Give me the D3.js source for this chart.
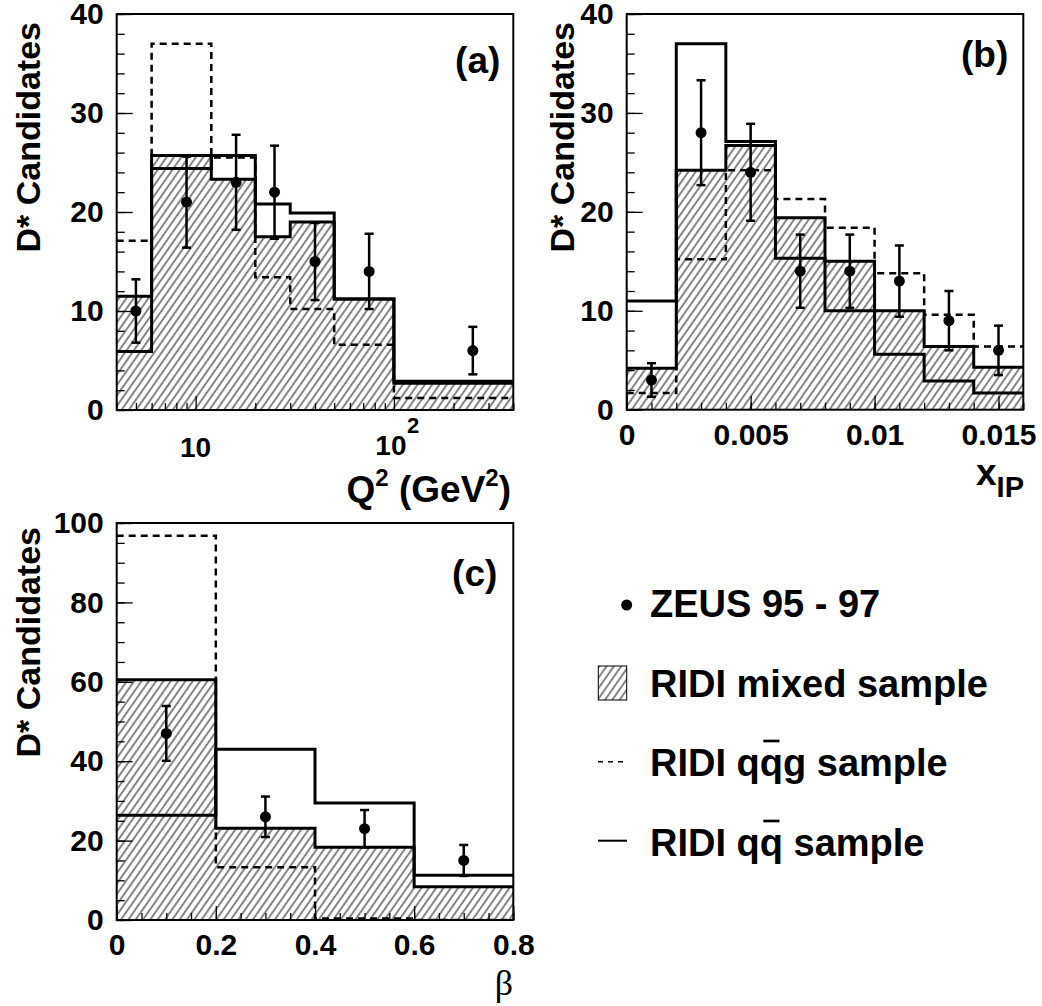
<!DOCTYPE html>
<meta charset="utf-8">
<style>
  body { margin: 0; background: #fff; }
  svg text { font-family: "Liberation Sans", Arial, sans-serif; font-weight: bold; fill: #000; }
  .tick text { font-size: 30px; font-family: "Liberation Sans", Arial, sans-serif; font-weight: bold; }
</style>
<svg width="1042" height="1006"></svg>
<script src="https://d3js.org/d3.v7.min.js"></script>
<script>
// (a) Q^2 distribution
var q2Edges = [4, 6, 12, 20, 30, 50, 100, 400];
var q2Mixed = [11.5, 25.7, 23.3, 17.5, 19.0, 11.2, 2.7];
var q2Qq = [5.9, 24.4, 25.7, 20.8, 19.9, 11.2, 2.9];
var q2Qqg = [17.1, 37.0, 25.5, 13.4, 10.2, 6.6, 1.2];
var q2PointX = [5, 9, 16, 25, 40, 75, 250];
var q2PointY = [10, 21, 23, 22, 15, 14, 6];
var q2PointErr = [3.2, 4.6, 4.8, 4.7, 3.9, 3.8, 2.4];

// (b) x_IP distribution
var xpEdges = [0, 0.002, 0.004, 0.006, 0.008, 0.010, 0.012, 0.014, 0.016];
var xpMixed = [4.2, 24.2, 26.7, 19.4, 15.0, 10.0, 6.4, 4.3];
var xpQq = [11.0, 37.0, 27.1, 15.3, 10.0, 5.6, 2.9, 1.7];
var xpQqg = [1.7, 15.2, 24.2, 21.3, 18.4, 13.8, 9.6, 6.4];
var xpPointX = [0.001, 0.003, 0.005, 0.007, 0.009, 0.011, 0.013, 0.015];
var xpPointY = [3, 28, 24, 14, 14, 13, 9, 6];
var xpPointErr = [1.7, 5.3, 4.9, 3.7, 3.7, 3.6, 3.0, 2.5];

// (c) beta distribution
var betaEdges = [0, 0.2, 0.4, 0.6, 0.8];
var betaMixed = [60.5, 23.1, 18.3, 8.4];
var betaQq = [26.4, 43.0, 29.5, 11.3];
var betaQqg = [96.8, 13.3, 0.4, 0];
var betaPointX = [0.1, 0.3, 0.5, 0.7];
var betaPointY = [47, 26, 23, 15];
var betaPointErr = [6.9, 5.1, 4.7, 3.9];

var yTicksAB = [0, 10, 20, 30, 40];
var yTicksC = [0, 20, 40, 60, 80, 100];
var xpTicks = [0, 0.005, 0.01, 0.015];
var betaTicks = [0, 0.2, 0.4, 0.6, 0.8];

var svg = d3.select("svg");
var defs = svg.append("defs");
defs.append("pattern")
    .attr("id", "hatch")
    .attr("patternUnits", "userSpaceOnUse")
    .attr("width", 6).attr("height", 10)
    .attr("patternTransform", "rotate(35)")
  .append("line")
    .attr("x1", 3).attr("y1", -1).attr("x2", 3).attr("y2", 11)
    .attr("stroke", "#222").attr("stroke-width", 1.1);

function stepData(edges, vals) {
    return edges.map(function (e, i) { return [e, vals[Math.min(i, vals.length - 1)]]; });
}

function drawPanel(p) {
    var g = svg.append("g").attr("transform", "translate(" + p.left + "," + p.top + ")");
    var x = p.x.range([0, p.w]);
    var y = d3.scaleLinear().domain([0, p.ymax]).range([p.h, 0]);

    var clipId = "clip" + p.name;
    defs.append("clipPath").attr("id", clipId)
      .append("rect").attr("width", p.w).attr("height", p.h);
    var body = g.append("g").attr("clip-path", "url(#" + clipId + ")");

    var area = d3.area().x(function (d) { return x(d[0]); })
        .y0(y(0)).y1(function (d) { return y(d[1]); })
        .curve(d3.curveStepAfter);
    var line = d3.line().x(function (d) { return x(d[0]); })
        .y(function (d) { return y(d[1]); })
        .curve(d3.curveStepAfter);

    body.append("path").attr("d", area(stepData(p.edges, p.mixed)))
        .attr("fill", "url(#hatch)");
    body.append("path").attr("d", line(stepData(p.edges, p.mixed)))
        .attr("fill", "none").attr("stroke", "#000").attr("stroke-width", 3);
    body.append("path").attr("d", line(stepData(p.edges, p.qq)))
        .attr("fill", "none").attr("stroke", "#000").attr("stroke-width", 3);
    body.append("path").attr("d", line(stepData(p.edges, p.qqg)))
        .attr("fill", "none").attr("stroke", "#000").attr("stroke-width", 2.5)
        .attr("stroke-dasharray", "7,5");

    // y axis: major + minor ticks pointing inward
    g.append("g").call(d3.axisLeft(y).tickValues(p.yTicks)
        .tickSize(-16).tickPadding(13));
    g.append("g").call(d3.axisLeft(y).tickValues(d3.range(0, p.ymax + 0.01, p.yMinor))
        .tickSize(-8).tickFormat(""));

    // x axis
    g.append("g").attr("transform", "translate(0," + p.h + ")")
        .call(d3.axisBottom(x).tickValues(p.xTicks).tickSize(-14)
            .tickPadding(14).tickFormat(p.xFormat));
    g.append("g").attr("transform", "translate(0," + p.h + ")")
        .call(d3.axisBottom(x).tickValues(p.xMinor).tickSize(-7).tickFormat(""));

    g.selectAll(".domain").remove();
    g.selectAll(".tick line").attr("stroke", "#000").attr("stroke-width", 1.3);

    g.append("rect").attr("width", p.w).attr("height", p.h)
        .attr("fill", "none").attr("stroke", "#000").attr("stroke-width", 2);

    // data points
    var pts = g.append("g");
    p.px.forEach(function (v, i) {
        var cx = x(v), cy = y(p.py[i]);
        var lo = y(p.py[i] - p.perr[i]), hi = y(p.py[i] + p.perr[i]);
        pts.append("line").attr("x1", cx).attr("x2", cx).attr("y1", lo).attr("y2", hi)
            .attr("stroke", "#000").attr("stroke-width", 2.5);
        [lo, hi].forEach(function (yy) {
            pts.append("line").attr("x1", cx - 4.5).attr("x2", cx + 4.5)
                .attr("y1", yy).attr("y2", yy)
                .attr("stroke", "#000").attr("stroke-width", 2.5);
        });
        pts.append("circle").attr("cx", cx).attr("cy", cy).attr("r", 5.5).attr("fill", "#000");
    });

    g.append("text").attr("x", p.w - p.labelDx).attr("y", p.labelY)
        .attr("text-anchor", "end").style("font-size", "37px").text(p.label);

    svg.append("text")
        .attr("transform", "translate(" + p.ytitleX + "," + p.ytitleY + ") rotate(-90)")
        .attr("text-anchor", "end").style("font-size", "34px")
        .text("D* Candidates");
    return { g: g, x: x, y: y };
}

function minorLog() {
    var t = [];
    [1, 10, 100].forEach(function (d) {
        for (var k = 1; k <= 9; k++) {
            var v = k * d;
            if (v >= 4 && v <= 400 && v !== 10 && v !== 100) t.push(v);
        }
    });
    return t;
}

var pa = drawPanel({
    name: "a", left: 116.7, top: 14, w: 396.6, h: 396,
    x: d3.scaleLog().domain([4, 400]), ymax: 40, yTicks: yTicksAB, yMinor: 2,
    xTicks: [10, 100], xMinor: minorLog(), xFormat: function () { return ""; },
    edges: q2Edges, mixed: q2Mixed, qq: q2Qq, qqg: q2Qqg,
    px: q2PointX, py: q2PointY, perr: q2PointErr,
    label: "(a)", labelDx: 13, labelY: 59, ytitleX: 40, ytitleY: 22
});

var pb = drawPanel({
    name: "b", left: 626.7, top: 14, w: 396.6, h: 395.7,
    x: d3.scaleLinear().domain([0, 0.016]), ymax: 40, yTicks: yTicksAB, yMinor: 2,
    xTicks: xpTicks, xMinor: d3.range(0, 0.0161, 0.001),
    xFormat: function (d) { return d === 0 ? "0" : String(+d.toFixed(3)); },
    edges: xpEdges, mixed: xpMixed, qq: xpQq, qqg: xpQqg,
    px: xpPointX, py: xpPointY, perr: xpPointErr,
    label: "(b)", labelDx: 15, labelY: 53, ytitleX: 574, ytitleY: 22
});

var pc = drawPanel({
    name: "c", left: 116.7, top: 523, w: 396.6, h: 397,
    x: d3.scaleLinear().domain([0, 0.8]), ymax: 100, yTicks: yTicksC, yMinor: 5,
    xTicks: betaTicks, xMinor: d3.range(0, 0.801, 0.05),
    xFormat: function (d) { return d === 0 ? "0" : String(+d.toFixed(2)); },
    edges: betaEdges, mixed: betaMixed, qq: betaQq, qqg: betaQqg,
    px: betaPointX, py: betaPointY, perr: betaPointErr,
    label: "(c)", labelDx: 16, labelY: 63, ytitleX: 40, ytitleY: 527
});

// log axis labels for (a)
pa.g.append("text").attr("x", pa.x(10)).attr("y", 396 + 47)
    .attr("text-anchor", "middle").style("font-size", "28px").text("10");
pa.g.append("text").attr("x", pa.x(100) - 3).attr("y", 396 + 45)
    .attr("text-anchor", "middle").style("font-size", "28px").text("10");
pa.g.append("text").attr("x", pa.x(100) + 13).attr("y", 396 + 23)
    .style("font-size", "22px").text("2");

// axis titles
var qt = svg.append("text").attr("x", 511).attr("y", 502)
    .attr("text-anchor", "end").style("font-size", "37px");
qt.append("tspan").text("Q");
qt.append("tspan").attr("dy", -16).style("font-size", "24px").text("2");
qt.append("tspan").attr("dy", 16).text(" (GeV");
qt.append("tspan").attr("dy", -16).style("font-size", "24px").text("2");
qt.append("tspan").attr("dy", 16).text(")");

var xt = svg.append("text").attr("x", 1024).attr("y", 485)
    .attr("text-anchor", "end").style("font-size", "37px");
xt.append("tspan").text("x");
xt.append("tspan").attr("dy", 12).style("font-size", "29px").text("IP");

svg.append("text").attr("x", 513).attr("y", 995).attr("text-anchor", "end")
    .style("font-family", "'Liberation Serif', 'DejaVu Serif', serif")
    .style("font-weight", "normal").style("font-size", "36px").text("β");

// legend
var legX = 650;
var legRows = [617, 697, 776, 856];
var legend = svg.append("g");
legend.append("circle").attr("cx", 626.7).attr("cy", legRows[0] - 12).attr("r", 5.5).attr("fill", "#000");
legend.append("rect").attr("x", 598.3).attr("y", 666).attr("width", 28.4).attr("height", 34)
    .attr("fill", "url(#hatch)").attr("stroke", "#000").attr("stroke-width", 1);
legend.append("line").attr("x1", 598).attr("x2", 627).attr("y1", 761.7).attr("y2", 761.7)
    .attr("stroke", "#000").attr("stroke-width", 1.5).attr("stroke-dasharray", "5,5");
legend.append("line").attr("x1", 598).attr("x2", 627).attr("y1", 840.7).attr("y2", 840.7)
    .attr("stroke", "#000").attr("stroke-width", 2);

var legTexts = ["ZEUS 95 - 97", "RIDI mixed sample", "RIDI qqg sample", "RIDI qq sample"];
legTexts.forEach(function (t, i) {
    var node = legend.append("text").attr("x", legX).attr("y", legRows[i])
        .style("font-size", "38px").text(t).node();
    if (i >= 2) {
        var x0 = legX + node.getSubStringLength(0, 6);
        var w = node.getSubStringLength(6, 1);
        legend.append("line").attr("x1", x0 + w * 0.15).attr("x2", x0 + w * 0.85)
            .attr("y1", legRows[i] - 35).attr("y2", legRows[i] - 35)
            .attr("stroke", "#000").attr("stroke-width", 2.7);
    }
});
</script>
